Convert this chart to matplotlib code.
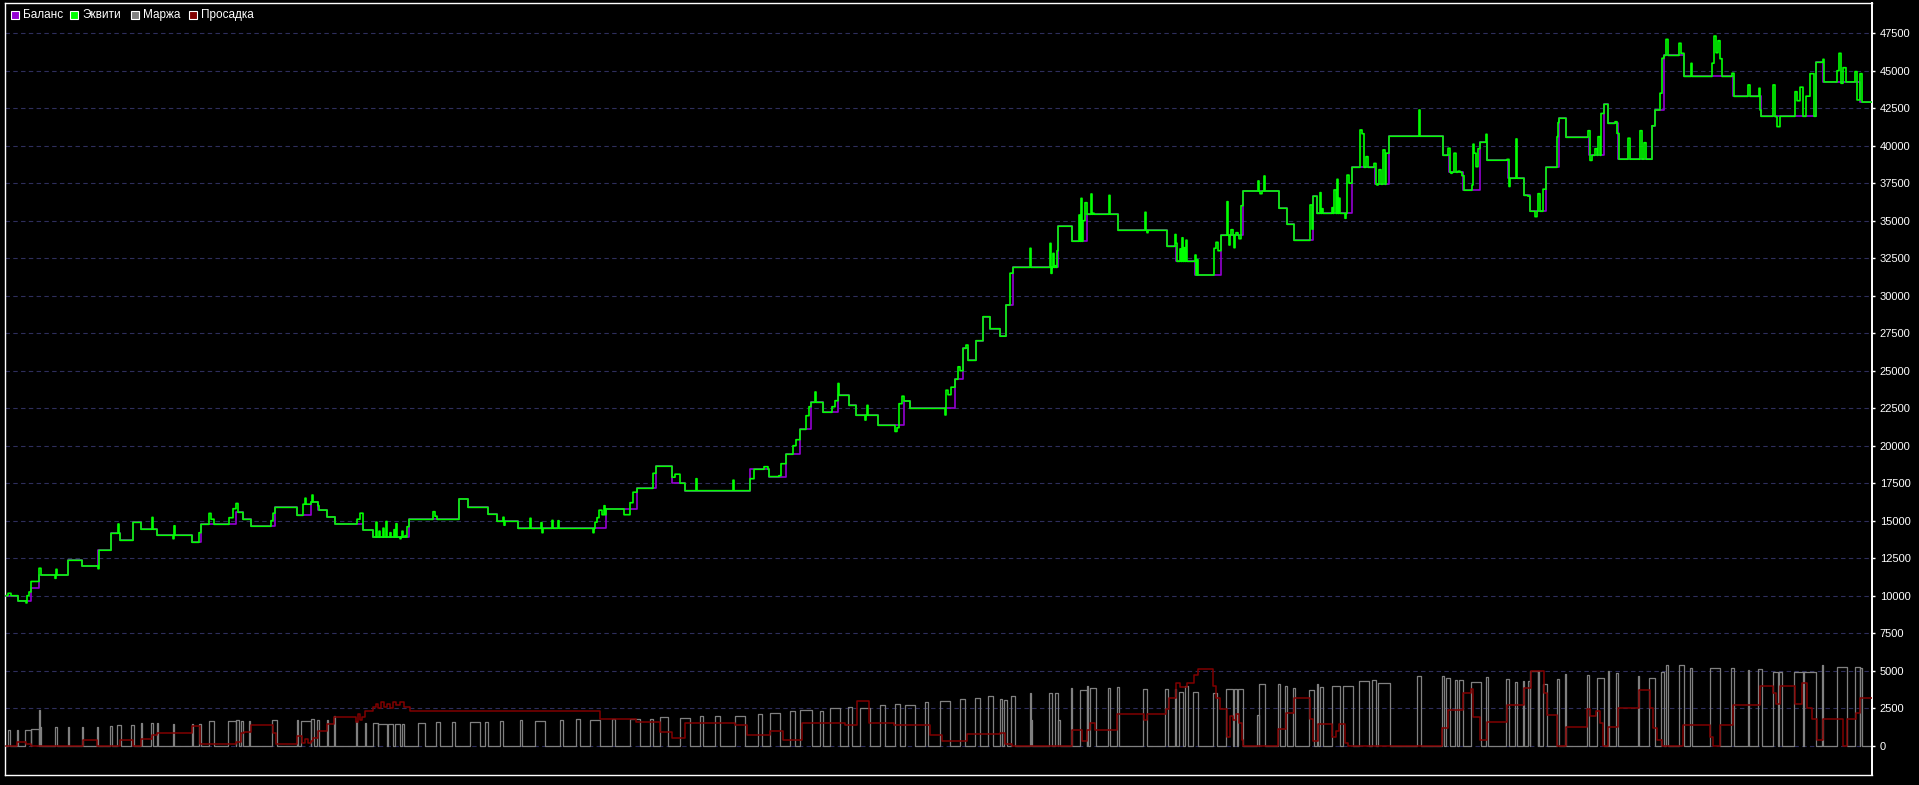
import numpy as np
import matplotlib
matplotlib.use("Agg")
import matplotlib.pyplot as plt
from matplotlib.patches import Rectangle

plt.rcParams['font.family'] = ['Liberation Sans', 'DejaVu Sans']

# ---- data (time index = bar number, values in account currency) ----
# balance steps: (start, value)
balance_steps = [
    (6, 10000), (18, 9650), (31, 10490), (39, 11380), (68, 12360), (82, 11980),
    (98, 13030), (111, 14160), (120, 13690), (133, 14890), (141, 14430), (157, 14030),
    (192, 13560), (201, 14760), (236, 15560), (243, 15090), (251, 14630), (275, 15890),
    (297, 15360), (311, 16250), (318, 15710), (327, 15250), (335, 14780), (363, 14380),
    (373, 13910), (409, 15090), (459, 16450), (468, 15890), (488, 15430), (497, 14960),
    (518, 14490), (606, 15780), (637, 17160), (656, 18630), (672, 17500), (685, 17000),
    (750, 18430), (769, 17940), (786, 19430), (800, 21090), (811, 22890), (823, 22230),
    (838, 23360), (849, 22690), (856, 22030), (878, 21360), (904, 22980), (910, 22490),
    (955, 24430), (963, 26490), (968, 25690), (976, 27000), (983, 28600), (990, 27800),
    (1000, 27300), (1006, 29380), (1013, 31890), (1058, 34630), (1072, 33630),
    (1087, 35430), (1118, 34360), (1167, 33290), (1176, 32290), (1195, 31380),
    (1221, 34030), (1243, 36980), (1279, 35830), (1287, 34760), (1294, 33690),
    (1313, 36630), (1317, 35490), (1352, 38560), (1375, 37430), (1389, 40630),
    (1443, 39360), (1449, 38230), (1463, 37030), (1480, 40230), (1487, 39030),
    (1508, 37830), (1524, 36690), (1530, 35630), (1546, 38560), (1559, 41830),
    (1566, 40560), (1589, 39360), (1604, 42760), (1608, 41490), (1618, 39100),
    (1652, 41330), (1655, 42380), (1664, 46020), (1684, 44620), (1733, 43290),
    (1761, 41960), (1816, 45560), (1823, 44250), (1860, 42910),
]

# equity where it differs from balance: (start, end, value)
equity_moves = [
    (8, 11, 10160), (26, 27, 9520), (27, 29, 10000), (29, 31, 10250), (31, 39, 10950),
    (39, 41, 11830), (55, 56, 11160), (56, 57, 11760), (98, 99, 11800), (118, 119, 14780),
    (152, 153, 15220), (173, 174, 13800), (174, 175, 14660), (199, 201, 14200),
    (209, 211, 15490), (211, 214, 15100), (229, 233, 15200), (233, 236, 15800),
    (236, 238, 16150), (271, 273, 15000), (273, 275, 15500), (303, 311, 16100),
    (305, 306, 16500), (312, 313, 16710), (318, 319, 16000),
    (357, 360, 15100), (360, 363, 15500), (376, 377, 14900), (379, 380, 14300),
    (383, 384, 14500), (386, 387, 14950), (390, 391, 14200), (394, 395, 14400),
    (396, 397, 14800), (400, 401, 13800), (402, 403, 14300), (405, 406, 14000),
    (407, 409, 14600), (433, 435, 15600), (435, 437, 15300), (503, 504, 15230),
    (504, 505, 14700), (530, 531, 15160), (541, 542, 14870), (542, 543, 14200),
    (552, 553, 15020), (558, 559, 15000), (593, 594, 14200), (595, 597, 14900),
    (597, 599, 15200), (599, 602, 15700), (602, 606, 15400), (604, 605, 16000),
    (624, 630, 15400), (630, 633, 16200), (633, 637, 16900),
    (653, 656, 18160), (672, 675, 17900), (675, 680, 18100), (696, 697, 17800),
    (733, 734, 17700), (750, 754, 17800), (764, 768, 18600), (779, 781, 18000),
    (781, 786, 18800), (793, 796, 20000), (796, 800, 20400), (806, 809, 22000),
    (809, 811, 22600), (815, 816, 23580), (832, 835, 22600), (835, 838, 23000),
    (838, 839, 24150), (865, 866, 21710), (867, 868, 22690), (895, 897, 20950),
    (897, 899, 21200), (899, 902, 22800), (902, 904, 23300), (945, 946, 22050),
    (946, 948, 23700), (948, 951, 23400), (951, 955, 23900), (958, 960, 25260),
    (960, 963, 25000), (966, 968, 26710),
    (1010, 1013, 31500), (1030, 1031, 33160), (1050, 1051, 33490), (1051, 1052, 31490),
    (1053, 1054, 32820), (1055, 1056, 32000), (1057, 1058, 33000), (1079, 1080, 35380),
    (1081, 1082, 36490), (1083, 1085, 35000), (1085, 1087, 36200), (1091, 1092, 36780),
    (1093, 1094, 35500), (1109, 1110, 36690), (1145, 1146, 35560), (1147, 1148, 34200),
    (1175, 1176, 34080), (1176, 1177, 33500), (1180, 1181, 33120), (1182, 1183, 33860),
    (1184, 1185, 33200), (1186, 1187, 33700), (1195, 1196, 32710), (1197, 1198, 32400),
    (1214, 1216, 33160), (1216, 1218, 33560), (1218, 1221, 33000), (1227, 1228, 36270),
    (1229, 1230, 33380), (1231, 1233, 34400), (1234, 1235, 33200), (1236, 1238, 34200),
    (1239, 1241, 33800), (1241, 1243, 36000), (1258, 1259, 37650), (1260, 1262, 36800),
    (1264, 1265, 37980),
    (1310, 1312, 36050), (1312, 1313, 34440), (1320, 1321, 36870), (1322, 1323, 35800),
    (1332, 1333, 35870), (1334, 1336, 37050), (1337, 1338, 37760), (1339, 1340, 36500),
    (1345, 1346, 35160), (1347, 1349, 38040), (1349, 1352, 37500), (1360, 1362, 41050),
    (1362, 1364, 40800), (1366, 1368, 39270), (1374, 1376, 38820), (1377, 1378, 37380),
    (1379, 1381, 38400), (1383, 1385, 39720), (1386, 1389, 39500), (1419, 1420, 42380),
    (1448, 1450, 39830), (1451, 1452, 38160), (1454, 1456, 39500), (1458, 1460, 38300),
    (1462, 1464, 38000), (1472, 1473, 37380), (1473, 1474, 40100), (1474, 1476, 39500),
    (1476, 1478, 38600), (1478, 1480, 39800), (1486, 1487, 40760), (1507, 1509, 39090),
    (1509, 1510, 37280), (1516, 1517, 40450), (1528, 1530, 36640), (1535, 1537, 35270),
    (1538, 1540, 36800), (1543, 1546, 37100), (1557, 1558, 40600), (1558, 1559, 41540),
    (1588, 1590, 41000), (1590, 1592, 39020), (1595, 1597, 39800), (1598, 1600, 40600),
    (1601, 1604, 42150),
    (1615, 1617, 41600), (1617, 1619, 40820), (1628, 1630, 40500), (1640, 1642, 41000),
    (1644, 1646, 40200), (1660, 1662, 43500), (1662, 1664, 45830), (1666, 1668, 47090),
    (1679, 1681, 46830), (1681, 1684, 46160), (1691, 1692, 45490), (1712, 1714, 45500),
    (1714, 1716, 47310), (1716, 1718, 46200), (1718, 1720, 47000), (1720, 1722, 45800),
    (1732, 1734, 44830), (1748, 1750, 44050), (1759, 1760, 43830), (1760, 1761, 42380),
    (1773, 1775, 44050), (1775, 1777, 41940), (1777, 1780, 41270), (1795, 1797, 43600),
    (1797, 1800, 43000), (1800, 1803, 43900), (1806, 1810, 43300), (1810, 1814, 44800),
    (1823, 1824, 45760), (1837, 1839, 45000), (1839, 1841, 46160), (1841, 1843, 44160),
    (1843, 1846, 45200), (1855, 1857, 44940), (1857, 1860, 43050), (1860, 1862, 44800),
]

# margin in use: (start, end, level)
margin_blocks = [
    (8, 10, 1020), (17, 18, 1020), (25, 31, 1020), (31, 39, 1100), (39, 40, 2380),
    (40, 41, 1260), (55, 57, 1240), (68, 69, 1240), (82, 83, 1240), (97, 98, 1240),
    (110, 112, 1330), (117, 121, 1400), (131, 134, 1400), (141, 142, 1530),
    (151, 153, 1530), (157, 158, 1530), (173, 174, 1460), (192, 193, 1460),
    (199, 201, 1460), (209, 214, 1620), (228, 236, 1620), (236, 239, 1730),
    (241, 243, 1660), (249, 250, 1660), (272, 277, 1690), (297, 298, 1690),
    (301, 311, 1620), (311, 314, 1780), (317, 319, 1730), (327, 328, 1730),
    (334, 335, 1960), (356, 357, 1620), (365, 366, 1510), (373, 378, 1510),
    (378, 387, 1470), (388, 393, 1470), (395, 400, 1470),
    (402, 404, 1450), (418, 425, 1500), (436, 440, 1550), (452, 455, 1600),
    (470, 480, 1550), (485, 488, 1600), (500, 503, 1650), (520, 522, 1700),
    (535, 545, 1650), (560, 563, 1700), (576, 580, 1750), (590, 600, 1700),
    (612, 615, 1800), (630, 640, 1750), (650, 653, 1800), (660, 668, 1900),
    (680, 690, 1850), (700, 703, 2000), (715, 720, 1950), (735, 745, 2000),
    (758, 762, 2100), (770, 780, 2200), (790, 795, 2300), (800, 812, 2400),
    (820, 823, 2300), (830, 840, 2500), (848, 852, 2600), (860, 870, 2500),
    (880, 885, 2700), (895, 900, 2800), (905, 915, 2700), (925, 928, 2900),
    (940, 950, 3000), (960, 965, 3100), (975, 980, 3200), (988, 993, 3300),
    (1000, 1002, 3110), (1004, 1007, 3040), (1011, 1015, 3310), (1030, 1031, 3510),
    (1031, 1032, 1730), (1049, 1052, 3510), (1055, 1058, 3510), (1058, 1060, 1730),
    (1071, 1072, 3860), (1080, 1087, 3730), (1087, 1088, 4000), (1090, 1096, 3860),
    (1108, 1110, 3860), (1117, 1119, 3930), (1143, 1147, 3800), (1165, 1168, 3800),
    (1175, 1176, 3800), (1179, 1183, 3600), (1185, 1188, 3950), (1193, 1198, 3600),
    (1213, 1217, 3510), (1226, 1233, 3800), (1234, 1237, 3800), (1238, 1243, 3800),
    (1257, 1259, 2040), (1259, 1265, 4130), (1278, 1280, 4130), (1285, 1287, 4000),
    (1293, 1295, 3860), (1309, 1314, 3730), (1317, 1318, 4130), (1320, 1323, 3930),
    (1332, 1340, 4000), (1343, 1353, 4000), (1359, 1369, 4310), (1372, 1376, 4400),
    (1378, 1390, 4180), (1417, 1421, 4640), (1442, 1444, 4660), (1446, 1450, 4530),
    (1455, 1457, 4400), (1459, 1463, 4400), (1471, 1481, 4260), (1486, 1488, 4600),
    (1506, 1509, 4440), (1515, 1517, 4240), (1523, 1524, 4330), (1528, 1530, 4330),
    (1530, 1538, 4970), (1538, 1539, 5000), (1543, 1547, 4110), (1557, 1559, 4440),
    (1565, 1566, 4770), (1587, 1589, 4710), (1597, 1604, 4510), (1608, 1609, 4970),
    (1616, 1618, 4840), (1638, 1639, 4640), (1649, 1655, 4510), (1661, 1664, 4910),
    (1666, 1668, 5380), (1679, 1684, 5380), (1690, 1692, 5180), (1710, 1720, 5180),
    (1731, 1734, 5180), (1748, 1749, 5040), (1758, 1762, 5110), (1773, 1778, 4910),
    (1779, 1782, 4910), (1794, 1803, 4910), (1804, 1816, 4910), (1822, 1823, 5380),
    (1837, 1847, 5220), (1855, 1860, 5220), (1860, 1862, 5150),
]

# drawdown steps: (start, value)
drawdown_steps = [
    (6, 0), (17, 270), (26, 100), (31, 0), (83, 360), (97, 0), (120, 360), (133, 0),
    (141, 450), (152, 710), (157, 820), (192, 1330), (200, 130), (236, 270), (241, 820),
    (244, 910), (251, 1380), (273, 820), (276, 110), (297, 620), (302, 200), (305, 450),
    (308, 150), (311, 300), (313, 510), (318, 980), (327, 1470), (334, 1930), (356, 1600),
    (358, 2100), (360, 1700), (362, 1930), (365, 2330), (373, 2600), (376, 2800),
    (378, 2500), (381, 2900), (384, 2600), (387, 2800), (390, 2500), (393, 2900),
    (396, 2700), (400, 2900), (404, 2600), (410, 2300), (600, 1800), (636, 1600),
    (660, 900), (672, 500), (685, 1500), (735, 1400), (747, 700), (770, 1000),
    (783, 400), (802, 1500), (845, 1400), (857, 3000), (869, 1500), (894, 1400),
    (930, 700), (942, 300), (967, 800), (1000, 840), (1005, 100), (1012, 0),
    (1072, 1070), (1082, 300), (1087, 1070), (1090, 1500), (1095, 1070), (1117, 2110),
    (1144, 1700), (1147, 2110), (1166, 2460), (1169, 3200), (1176, 4180), (1180, 3900),
    (1187, 4180), (1194, 4730), (1198, 5110), (1213, 4000), (1216, 3200), (1220, 2440),
    (1227, 600), (1230, 2000), (1233, 1700), (1236, 2100), (1239, 1500), (1242, 400),
    (1243, 0), (1278, 1110), (1286, 2180), (1294, 3200), (1310, 1800), (1313, 330),
    (1318, 1440), (1332, 600), (1336, 1000), (1339, 1440), (1345, 200), (1348, 0),
    (1442, 1180), (1448, 2400), (1463, 3510), (1471, 3800), (1473, 1900), (1480, 380),
    (1487, 1580), (1507, 2710), (1524, 3860), (1531, 4970), (1544, 3500), (1547, 2040),
    (1557, 0), (1566, 1240), (1587, 2440), (1590, 2000), (1596, 2300), (1600, 1500),
    (1603, 0), (1608, 1240), (1618, 2510), (1639, 3710), (1650, 2500), (1653, 1200),
    (1657, 380), (1662, 0), (1683, 1400), (1710, 600), (1713, 0), (1720, 1400),
    (1733, 2710), (1760, 3970), (1773, 3500), (1776, 2800), (1780, 3970), (1795, 2800),
    (1802, 4150), (1807, 2500), (1812, 1800), (1817, 380), (1823, 1760), (1843, 0),
    (1847, 1760), (1856, 2200), (1860, 3160),
]

t_end = 1872
y_ticks = list(range(0, 50000, 2500))
legend_names = ['Баланс', 'Эквити', 'Маржа', 'Просадка']
c_balance, c_equity, c_margin, c_dd = '#9400d3', '#00ff00', '#808080', '#800000'

# ---- build series ----
bt = np.array([s[0] for s in balance_steps] + [t_end])
bv = np.array([s[1] for s in balance_steps] + [balance_steps[-1][1]])

tt = np.arange(6, t_end + 1)
eq = bv[np.searchsorted(bt, tt, side='right') - 1].astype(float)
for t0, t1, v in equity_moves:
    eq[(tt >= t0) & (tt < t1)] = v

mx, my = [6], [0]
for s, e, h in margin_blocks:
    mx += [s, s, e, e]
    my += [0, h, h, 0]
mx.append(t_end)
my.append(0)

dt = np.array([s[0] for s in drawdown_steps] + [t_end])
dv = np.array([s[1] for s in drawdown_steps] + [drawdown_steps[-1][1]])

# ---- figure ----
W, H = 1919, 785
fig = plt.figure(figsize=(W / 100, H / 100), dpi=100, facecolor='#000000')
ax = fig.add_axes([5 / W, 10 / H, 1867 / W, 772 / H], facecolor='#000000')

for y in y_ticks:
    ax.axhline(y, color='#2e2e5c', lw=0.8, dashes=(4, 3), zorder=1)

ax.plot(mx, my, color=c_margin, lw=0.9, zorder=2)
ax.step(dt, dv, where='post', color=c_dd, lw=1.1, zorder=3)
ax.step(bt, bv, where='post', color=c_balance, lw=1.2, zorder=4)
ax.step(tt, eq, where='post', color=c_equity, lw=1.2, zorder=5)

ax.set_xlim(5, t_end)
ax.set_ylim(-1953, 49513)
ax.set_xticks([])
ax.yaxis.tick_right()
ax.set_yticks(y_ticks)
ax.set_yticklabels([str(v) for v in y_ticks])
ax.tick_params(axis='y', colors='white', labelcolor='white', labelsize=8,
               length=2.5, width=1, pad=3)
for side, sp in ax.spines.items():
    sp.set_color('white')
    sp.set_linewidth(1.4 if side == 'right' else 1.0)

# legend row at top-left
leg_colors = [c_balance, c_equity, c_margin, c_dd]
box_x = [11, 70, 131, 189]
for name, col, bx in zip(legend_names, leg_colors, box_x):
    fig.add_artist(Rectangle((bx / W, 1 - 19 / H), 8 / W, 8 / H,
                             transform=fig.transFigure, facecolor=col,
                             edgecolor='white', lw=0.8))
    fig.text((bx + 12) / W, 1 - 15 / H, name, color='white', fontsize=8.5,
             va='center', ha='left')

fig.savefig('out.png', dpi=100, facecolor=fig.get_facecolor())
